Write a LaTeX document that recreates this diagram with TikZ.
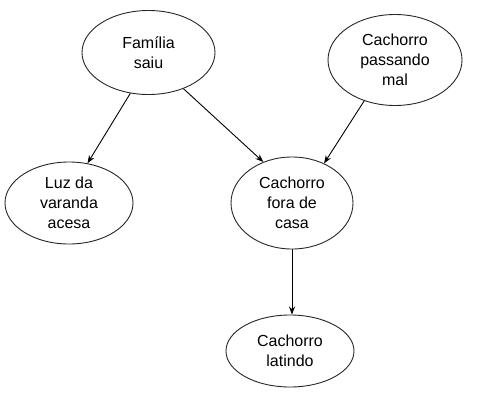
\documentclass[tikz,border=0pt]{standalone}
\usepackage{fontspec}
\setmainfont{Liberation Sans}
\usetikzlibrary{shapes.geometric,arrows.meta}

\tikzset{
  evento/.style={ellipse, draw=black!85, line width=0.9pt, inner sep=0pt, align=center,
    font=\fontsize{16pt}{20pt}\selectfont},
  seta/.style={-{Stealth[length=8pt,width=6pt]}, line width=0.9pt}
}

\begin{document}
\begin{tikzpicture}[x=1pt,y=-1pt]
\useasboundingbox (0,0) rectangle (485,405);

\node[evento, minimum width=133pt, minimum height=84pt] (familia) at (148.5,52.5) {Família\\saiu};
\node[evento, minimum width=134pt, minimum height=91pt] (doente) at (395,60) {Cachorro\\passando\\mal};
\node[evento, minimum width=128pt, minimum height=82pt] (luz) at (69,203) {Luz da\\varanda\\acesa};
\node[evento, minimum width=122pt, minimum height=92pt] (fora) at (292,203) {Cachorro\\fora de\\casa};
\node[evento, minimum width=128pt, minimum height=72pt] (latindo) at (290,351) {Cachorro\\latindo};

\draw[seta] (familia.246) -- (luz.65);
\draw[seta] (familia.314) -- (fora.125);
\draw[seta] (doente.233) -- (fora.51);
\draw[seta] (fora.south) -- (fora.south |- latindo.north);
\end{tikzpicture}
\end{document}
